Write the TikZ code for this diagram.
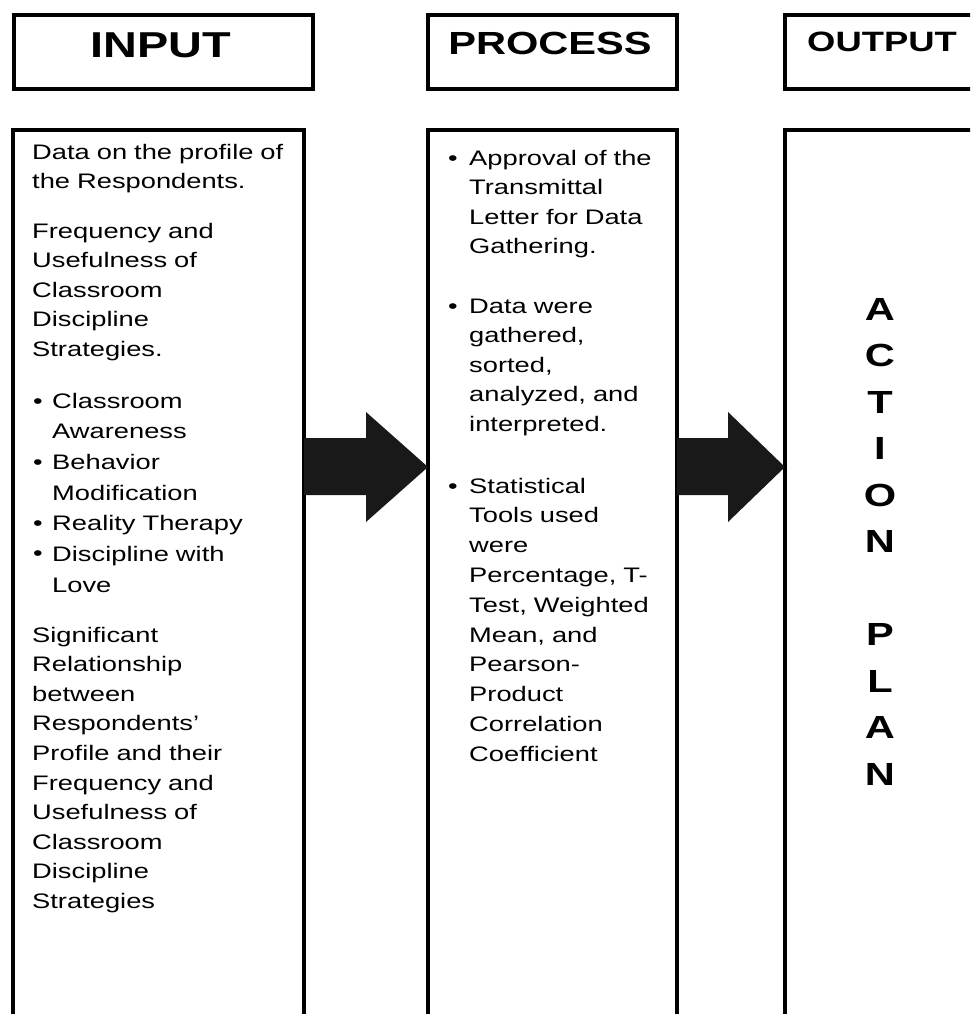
\documentclass[tikz,border=0pt]{standalone}
\usepackage{fontspec}
\setmainfont{Liberation Sans}[FakeStretch=1.3]

\begin{document}
\begin{tikzpicture}[x=1pt, y=-1pt,
  colbox/.style={draw, line width=4pt, inner sep=0pt, outer sep=0pt},
  headtext/.style={anchor=base, inner sep=0pt},
  bodytext/.style={anchor=base west, inner sep=0pt, text width=275pt, align=left,
    font=\fontsize{21}{29.6}\selectfont},
  dot/.style={anchor=base, inner sep=0pt, font=\fontsize{21}{21}\selectfont},
  blockarrow/.style={fill=black!90}]
  \useasboundingbox (0,0) rectangle (970,1014);
  \clip (0,0) rectangle (970,1014);

  % --- Header row ---
  \node[colbox, minimum width=299, minimum height=74] (inhead)   at (163.5,52) {};
  \node[colbox, minimum width=249, minimum height=74] (prochead) at (552.5,52) {};
  \node[colbox, minimum width=215, minimum height=74] (outhead)  at (892.5,52) {};

  \node[headtext, font=\bfseries\fontsize{36}{36}\selectfont] (intitle)   at (161,58) {INPUT};
  \node[headtext, font=\bfseries\fontsize{32}{32}\selectfont] (proctitle) at (550,55) {PROCESS};
  \node[headtext, font=\bfseries\fontsize{28}{28}\selectfont] (outtitle)  at (882,52) {OUTPUT};

  % --- Column boxes (run off the page) ---
  \node[colbox, minimum width=291, minimum height=910] (inbox)   at (158.5,585) {};
  \node[colbox, minimum width=249, minimum height=910] (procbox) at (552.5,585) {};
  \node[colbox, minimum width=215, minimum height=910] (outbox)  at (892.5,585) {};

  % --- Block arrows ---
  \fill[blockarrow] (inbox.east |- 0,438) -- (366,438) -- (366,412) -- (procbox.west |- 0,467)
    -- (366,522) -- (366,495) -- (inbox.east |- 0,495) -- cycle;
  \fill[blockarrow] (procbox.east |- 0,438) -- (728,438) -- (728,412) -- (outbox.west |- 0,467)
    -- (728,522) -- (728,495) -- (procbox.east |- 0,495) -- cycle;

  % --- Input text ---
  \node[bodytext] (in1) at (32,159) {Data on the profile of\\the Respondents.};
  \node[bodytext] (in2) at (32,238) {Frequency and\\Usefulness of\\Classroom\\Discipline\\Strategies.};
  \node[bodytext, font=\fontsize{21}{30.7}\selectfont] (in3) at (52,408)
    {Classroom\\Awareness\\Behavior\\Modification\\Reality Therapy\\Discipline with\\Love};
  \node[dot] (b1) at (38,408)   {\textbullet};
  \node[dot] (b2) at (38,469.4) {\textbullet};
  \node[dot] (b3) at (38,530.1) {\textbullet};
  \node[dot] (b4) at (38,560.8) {\textbullet};
  \node[bodytext] (in4) at (32,642) {Significant\\Relationship\\between\\Respondents’\\Profile and their\\
    Frequency and\\Usefulness of\\Classroom\\Discipline\\Strategies};

  % --- Process text ---
  \node[bodytext, text width=205pt] (proc1) at (469,165)
    {Approval of the\\Transmittal\\Letter for Data\\Gathering.};
  \node[bodytext, text width=205pt] (proc2) at (469,313)
    {Data were\\gathered,\\sorted,\\analyzed, and\\interpreted.};
  \node[bodytext, text width=205pt, font=\fontsize{21}{29.8}\selectfont] (proc3) at (469,493)
    {Statistical\\Tools used\\were\\Percentage, T-\\Test, Weighted\\
     Mean, and\\Pearson-\\Product\\Correlation\\Coefficient};
  \node[dot] (b5) at (453,165) {\textbullet};
  \node[dot] (b6) at (453,313) {\textbullet};
  \node[dot] (b7) at (453,493) {\textbullet};

  % --- Output text ---
  \node[anchor=base, inner sep=0pt, text width=60pt, align=center,
    font=\bfseries\fontsize{32}{46.5}\selectfont] (action) at (880,320)
    {A\\C\\T\\I\\O\\N\\[46.5pt]P\\L\\A\\N};
\end{tikzpicture}
\end{document}
